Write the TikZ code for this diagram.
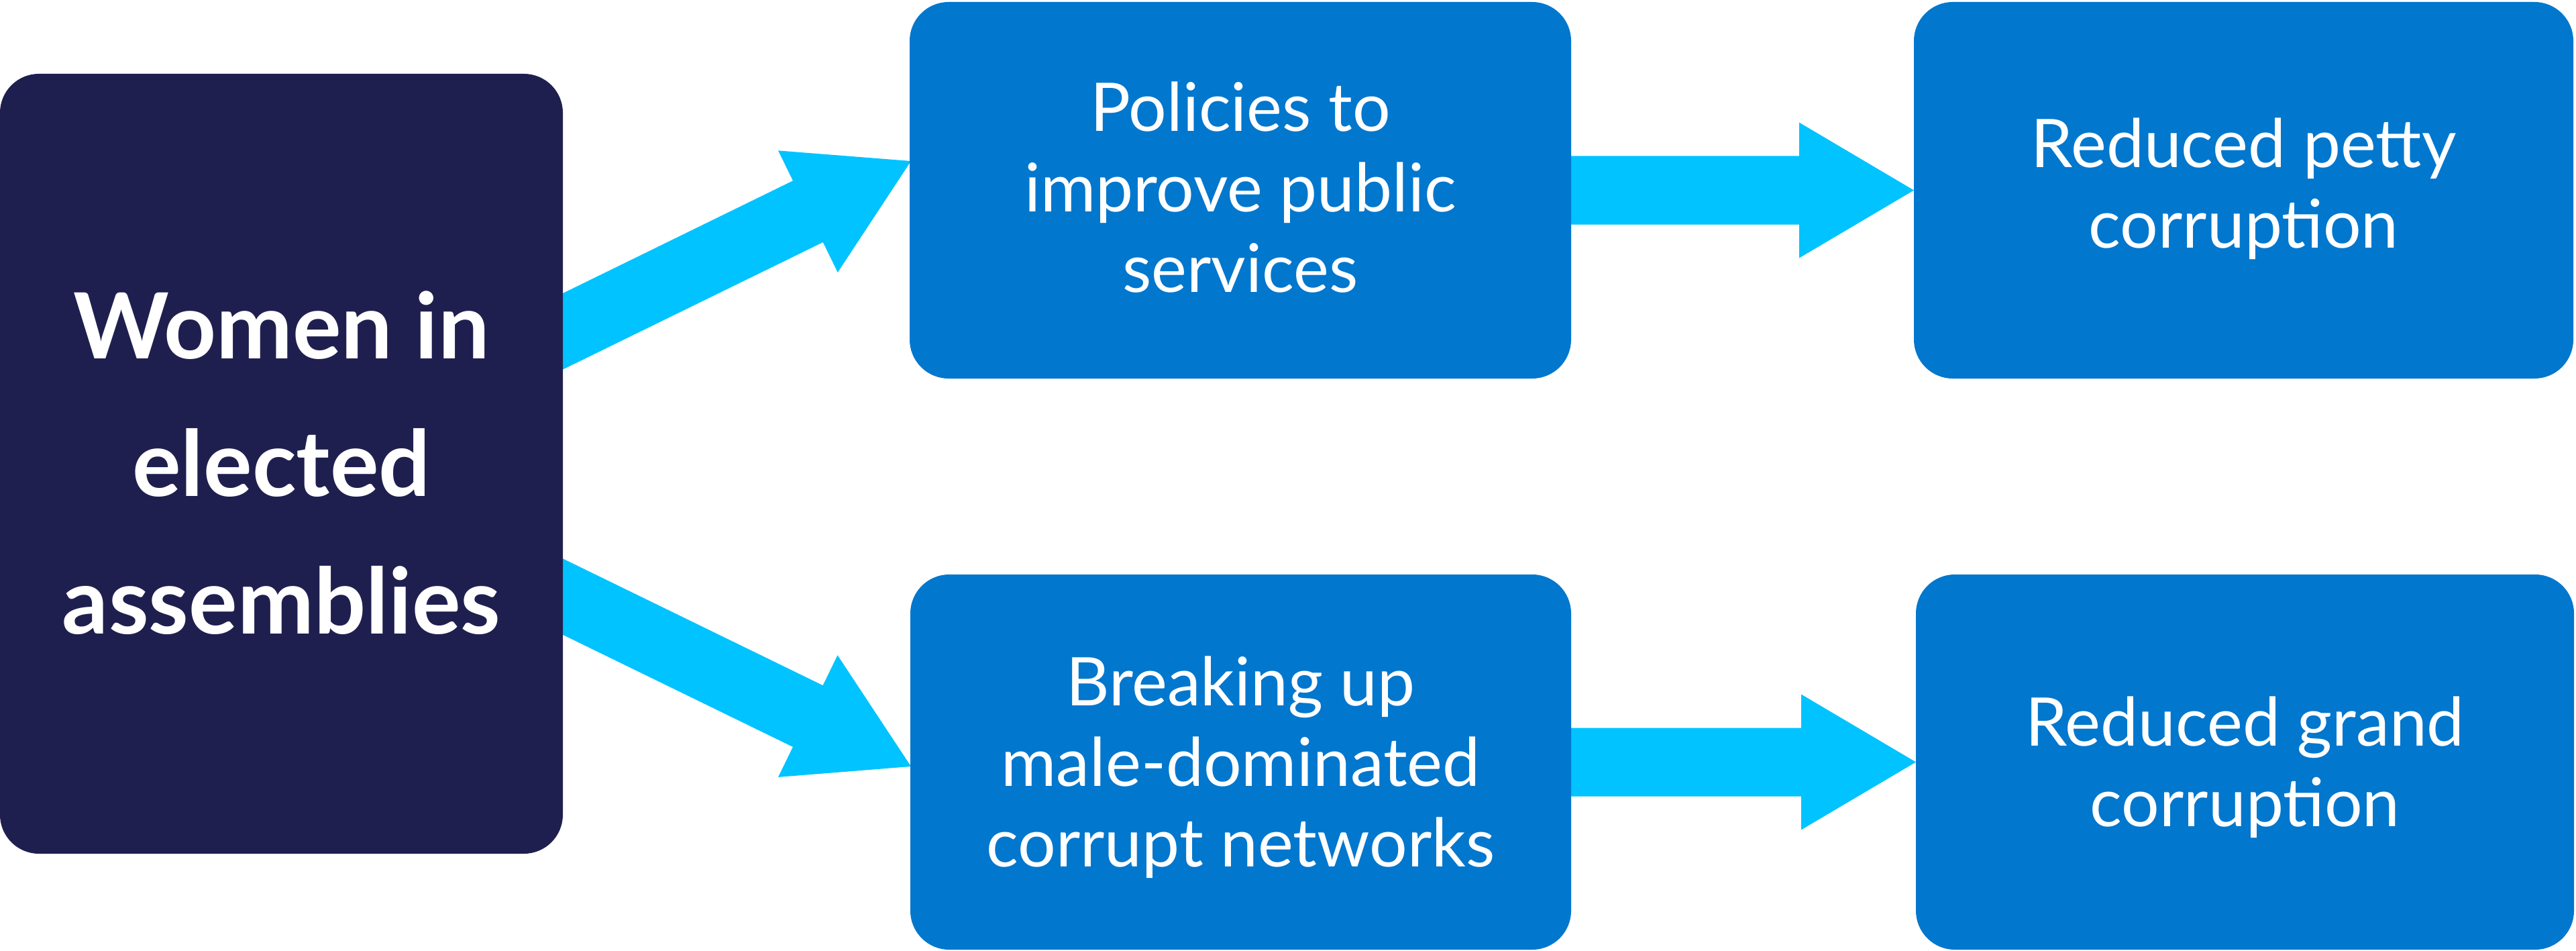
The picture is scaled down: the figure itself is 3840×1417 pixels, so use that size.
\documentclass[tikz,border=0pt]{standalone}
\usepackage{fontspec}
\setmainfont{Lato}
\usetikzlibrary{calc}
\definecolor{navy}{RGB}{31,31,79}
\definecolor{boxblue}{RGB}{2,119,206}
\definecolor{arrowcyan}{RGB}{0,195,255}
\pgfdeclarelayer{bg}
\pgfsetlayers{bg,main}
\tikzset{
  box/.style={rounded corners=58bp, inner sep=0pt, outer sep=0pt, text=white, align=center},
  leftbox/.style={box, fill=navy, font=\bfseries\fontsize{136bp}{205bp}\selectfont},
  bluebox/.style={box, fill=boxblue, font=\fontsize{100bp}{120bp}\selectfont},
  blockarrow/.style={fill=arrowcyan}
}
\newcommand{\firstline}[2]{\raisebox{0pt}[#1][\depth]{#2}}
\newcommand{\lastline}[2][0pt]{\raisebox{0pt}[\height][#1]{#2}}
\newcommand{\blockarr}[2]{%
  \coordinate (h-#1) at ($(#2)!171bp!(#1)$);
  \fill[blockarrow] ($(#1)!51bp!90:(#2)$) -- ($(h-#1)!51bp!90:(#2)$) -- ($(h-#1)!101bp!90:(#2)$) -- (#2)
    -- ($(h-#1)!101bp!-90:(#2)$) -- ($(h-#1)!51bp!-90:(#2)$) -- ($(#1)!51bp!-90:(#2)$) -- cycle;
}
\begin{document}
\begin{tikzpicture}[x=1bp,y=-1bp]
\useasboundingbox (0,0) rectangle (3840,1417);
% boxes
\node[leftbox, minimum width=839bp, minimum height=1162bp] (women) at (419.5,691)
  {\firstline{97.5bp}{Women in}\\elected\\\lastline{assemblies}};
\node[bluebox, minimum width=986bp, minimum height=561bp] (pol) at (1849,283.5)
  {\firstline{72bp}{Policies to}\\improve public\\\lastline[8bp]{services}};
\node[bluebox, minimum width=983bp, minimum height=561bp] (petty) at (3344.5,283.5)
  {\firstline{72bp}{Reduced petty}\\\lastline[20bp]{corruption}};
\node[bluebox, minimum width=985bp, minimum height=559bp] (break) at (1849.5,1135.5)
  {\firstline{72bp}{Breaking up}\\male-dominated\\\lastline{corrupt networks}};
\node[bluebox, minimum width=981bp, minimum height=559bp] (grand) at (3346.5,1135.5)
  {\firstline{72bp}{Reduced grand}\\\lastline{corruption}};
% arrow end points
\coordinate (a1s) at (767,529);
\coordinate (a1e) at ($(pol.west)+(2,-43.5)$);
\coordinate (a2s) at (767,854);
\coordinate (a2e) at ($(break.west)+(1,6.5)$);
\coordinate (a3s) at ($(pol.east)+(-20,0)$);
\coordinate (a3e) at (petty.west);
\coordinate (a4s) at ($(break.east)+(-20,0)$);
\coordinate (a4e) at (grand.west);
\begin{pgfonlayer}{bg}
\blockarr{a1s}{a1e}
\blockarr{a2s}{a2e}
\blockarr{a3s}{a3e}
\blockarr{a4s}{a4e}
\end{pgfonlayer}
\end{tikzpicture}
\end{document}
